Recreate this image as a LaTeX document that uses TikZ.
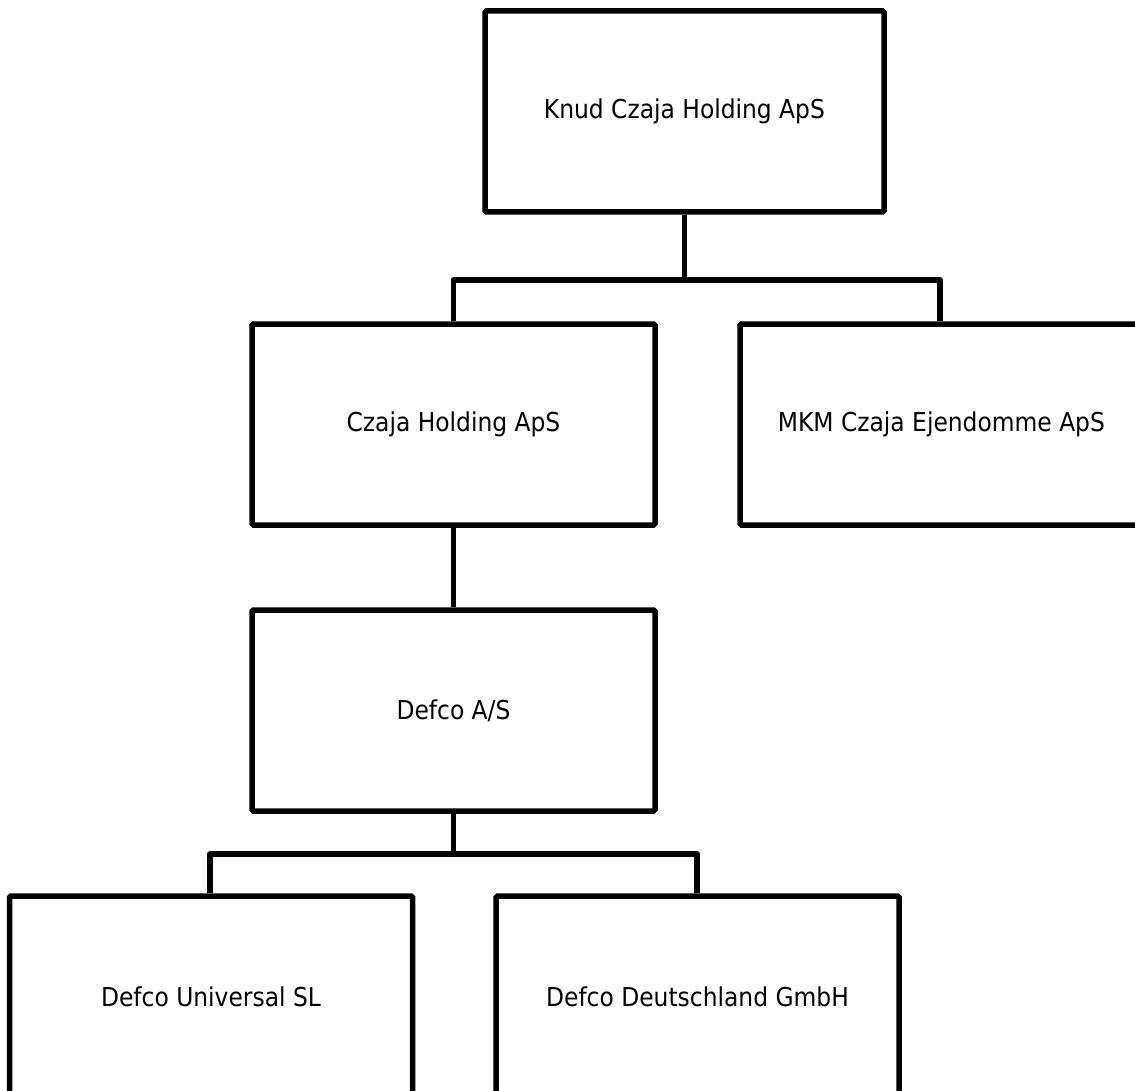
\documentclass[tikz,border=0pt]{standalone}
\usepackage{fontspec}
\setmainfont{DejaVu Sans Condensed}
\begin{document}
\begin{tikzpicture}[x=1pt,y=-1pt,
  orgbox/.style={draw=black, line width=5.5pt, rounded corners=1.5pt, rectangle,
    minimum width=403pt, minimum height=201pt, inner sep=0pt,
    font=\fontsize{26}{30}\selectfont},
  conn/.style={draw=black, line width=5.5pt, line join=round}]
\useasboundingbox[fill=white] (0,0) rectangle (1135,1091);
\clip (0,0) rectangle (1135,1091);
\node[orgbox, minimum width=399pt] (top) at (684.5,111.5) {Knud Czaja Holding ApS};
\node[orgbox] (czaja) at (453.5,424.5) {Czaja Holding ApS};
\node[orgbox] (mkm) at (941.5,424.5) {MKM Czaja Ejendomme ApS};
\node[orgbox] (defco) at (453.5,710.5) {Defco A/S};
\node[orgbox] (univ) at (211,996.5) {Defco Universal SL};
\node[orgbox] (deut) at (697.5,996.5) {Defco Deutschland GmbH};
\coordinate (b1) at (684.5,280);
\coordinate (b2) at (453.5,854);
\draw[conn] (top.south) -- (b1);
\draw[conn] (czaja.north) |- (b1) -| ([xshift=-1.5pt]mkm.north);
\draw[conn] (czaja.south) -- (defco.north);
\draw[conn] (defco.south) -- (b2);
\draw[conn] ([xshift=-1pt]univ.north) |- (b2) -| ([xshift=-0.5pt]deut.north);
\end{tikzpicture}
\end{document}
